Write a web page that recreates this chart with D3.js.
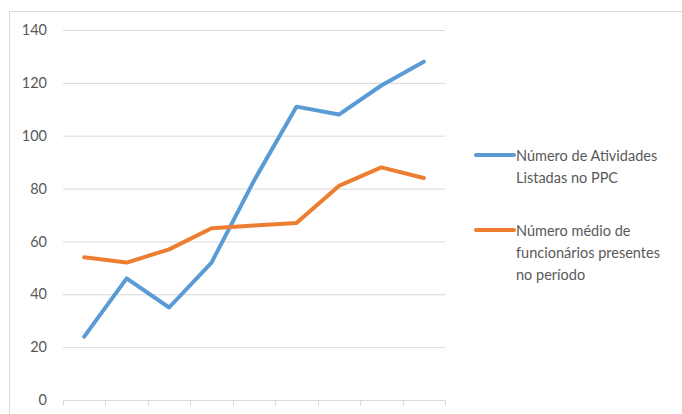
<!DOCTYPE html>
<html>
<head>
<meta charset="utf-8">
<script src="https://cdn.jsdelivr.net/npm/d3@7"></script>
<style>
  html, body { margin: 0; padding: 0; background: #fff; }
  svg { display: block; }
  text { font-family: Lato, "Open Sans", sans-serif; fill: #595959; }
</style>
</head>
<body>
<svg id="chart" width="682" height="414"></svg>
<script>
// Periods (unlabelled on the axis)
const periods = ["P1", "P2", "P3", "P4", "P5", "P6", "P7", "P8", "P9"];
// Number of activities listed in the PPC
const atividades = [24, 46, 35, 52, 83, 111, 108, 119, 128];
// Average number of staff present in the period
const funcionarios = [54, 52, 57, 65, 66, 67, 81, 88, 84];
const yTicks = [0, 20, 40, 60, 80, 100, 120, 140];

const seriesList = [
  { name: ["Número de Atividades", "Listadas no PPC"], values: atividades, color: "#5b9bd5" },
  { name: ["Número médio de", "funcionários presentes", "no período"], values: funcionarios, color: "#ed7d31" }
];

const svg = d3.select("#chart");

// Chart frame
svg.append("rect")
  .attr("x", 9.5).attr("y", 11.5)
  .attr("width", 700).attr("height", 420)
  .attr("fill", "none").attr("stroke", "#d9d9d9").attr("stroke-width", 1);

const plot = { left: 63, right: 445, top: 30, bottom: 400 };

const x = d3.scaleBand().domain(periods).range([plot.left, plot.right]);
const y = d3.scaleLinear().domain([0, 140]).range([plot.bottom, plot.top]);

// Horizontal gridlines
svg.append("g")
  .selectAll("line")
  .data(yTicks.filter(d => d > 0))
  .join("line")
  .attr("x1", plot.left).attr("x2", plot.right)
  .attr("y1", d => y(d) + 0.5).attr("y2", d => y(d) + 0.5)
  .attr("stroke", "#d9d9d9").attr("stroke-width", 1);

// Y axis labels
const yAxis = svg.append("g")
  .attr("transform", `translate(${plot.left},0)`)
  .call(d3.axisLeft(y).tickValues(yTicks).tickSize(0).tickPadding(16));
yAxis.select(".domain").remove();
yAxis.selectAll("text")
  .style("font-size", "14.5px")
  .style("font-family", "Lato, 'Open Sans', sans-serif")
  .attr("fill", "#595959");

// X axis baseline with category-boundary tick marks
const xAxisG = svg.append("g").attr("transform", `translate(0,${plot.bottom + 0.5})`);
xAxisG.append("line")
  .attr("x1", plot.left).attr("x2", plot.right)
  .attr("stroke", "#d9d9d9");
const bounds = periods.map(p => x(p)).concat([x(periods[periods.length - 1]) + x.bandwidth()]);
xAxisG.selectAll("line.tick")
  .data(bounds)
  .join("line")
  .attr("class", "tick")
  .attr("x1", d => Math.round(d) + 0.5).attr("x2", d => Math.round(d) + 0.5)
  .attr("y1", 0).attr("y2", 5)
  .attr("stroke", "#d9d9d9");

// Lines
const line = d3.line()
  .x((d, i) => x(periods[i]) + x.bandwidth() / 2)
  .y(d => y(d));

seriesList.forEach(s => {
  svg.append("path")
    .datum(s.values)
    .attr("d", line)
    .attr("fill", "none")
    .attr("stroke", s.color)
    .attr("stroke-width", 4)
    .attr("stroke-linejoin", "round")
    .attr("stroke-linecap", "round");
});

// Legend
const legendY = [157, 232];
const lineH = 22;
seriesList.forEach((s, i) => {
  const g = svg.append("g").attr("transform", `translate(474,${legendY[i]})`);
  g.append("line")
    .attr("x1", 2).attr("x2", 40).attr("y1", -2).attr("y2", -2)
    .attr("stroke", s.color).attr("stroke-width", 4).attr("stroke-linecap", "round");
  s.name.forEach((t, j) => {
    g.append("text")
      .attr("x", 42).attr("y", j * lineH + 4)
      .style("font-size", "14.5px")
      .text(t);
  });
});
</script>
</body>
</html>
